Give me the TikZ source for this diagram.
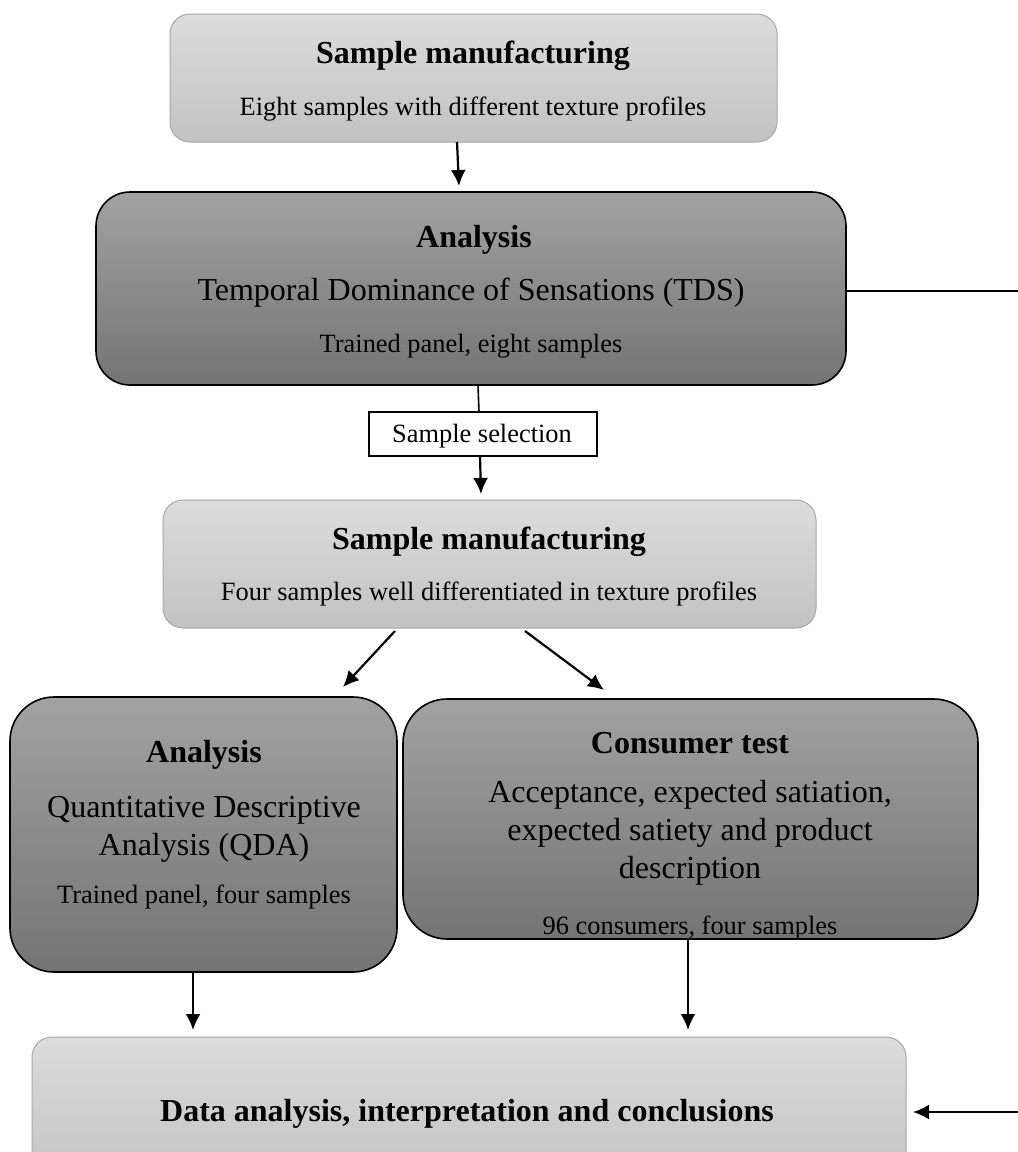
\documentclass[tikz,border=0pt]{standalone}
\usepackage{fontspec}
\setmainfont{Liberation Serif}
\usetikzlibrary{arrows.meta,calc}
\definecolor{lighttop}{HTML}{DCDCDC}
\definecolor{lightbot}{HTML}{C2C2C2}
\definecolor{lightedge}{HTML}{A8A8A8}
\definecolor{darktop}{HTML}{A2A2A2}
\definecolor{darkbot}{HTML}{747474}
\tikzset{
  lightbox/.style={rectangle, rounded corners=10pt, draw=lightedge, line width=0.5pt,
    top color=lighttop, bottom color=lightbot, inner sep=0pt, outer sep=0pt},
  darkbox/.style={rectangle, draw=black, line width=0.8pt,
    top color=darktop, bottom color=darkbot, inner sep=0pt, outer sep=0pt},
  selbox/.style={rectangle, draw=black, line width=0.8pt, fill=white, inner sep=0pt, outer sep=0pt},
  ttl/.style={anchor=base, inner sep=0pt, font=\fontsize{16}{19}\selectfont\bfseries},
  mainl/.style={anchor=base, inner sep=0pt, align=center, font=\fontsize{16}{19}\selectfont},
  subl/.style={anchor=base, inner sep=0pt, font=\fontsize{13.2}{16}\selectfont},
  arr/.style={line width=1.1pt, -{Latex[length=8pt,width=7.5pt]}},
  ln/.style={line width=0.8pt}
}
\begin{document}
\begin{tikzpicture}[x=0.5pt,y=-0.5pt]
\useasboundingbox (0,0) rectangle (1018,1152);
\clip (0,0) rectangle (1018,1152);
% boxes
\node[lightbox, minimum width=303.5pt, minimum height=64pt] (b1) at (473.5,78) {};
\node[darkbox, rounded corners=17pt, minimum width=375pt, minimum height=96.5pt] (b2) at (471,288.5) {};
\node[selbox, minimum width=114pt, minimum height=22pt] (sel) at (483,434) {};
\node[lightbox, minimum width=326.5pt, minimum height=64pt] (b3) at (489.5,564) {};
\node[darkbox, rounded corners=22pt, minimum width=193.5pt, minimum height=137.5pt] (b4) at (203.5,834.5) {};
\node[darkbox, rounded corners=22pt, minimum width=287.5pt, minimum height=120pt] (b5) at (690.5,819) {};
\node[lightbox, minimum width=437pt, minimum height=74pt] (b6) at (469,1111) {};
% texts
\node[ttl] (t1a) at (473,63) {Sample manufacturing};
\node[subl] (t1b) at (473,115) {Eight samples with different texture profiles};
\node[ttl] (t2a) at (474,247) {Analysis};
\node[mainl] (t2b) at (471,300) {Temporal Dominance of Sensations (TDS)};
\node[subl] (t2c) at (471,352) {Trained panel, eight samples};
\node[subl] (ts) at (482,442) {Sample selection};
\node[ttl] (t3a) at (489,549) {Sample manufacturing};
\node[subl] (t3b) at (489,600) {Four samples well differentiated in texture profiles};
\node[ttl] (t4a) at (204,762) {Analysis};
\node[mainl] (t4b) at (204,855) {Quantitative Descriptive\\Analysis (QDA)};
\node[subl] (t4c) at (204,903) {Trained panel, four samples};
\node[ttl] (t5a) at (690,753) {Consumer test};
\node[mainl] (t5b) at (690,878) {Acceptance, expected satiation,\\expected satiety and product\\description};
\node[subl] (t5c) at (690,934) {96 consumers, four samples};
\node[ttl] (t6a) at (467,1121) {Data analysis, interpretation and conclusions};
% connectors
\coordinate (r1) at (1018,291);
\coordinate (r2) at (1018,1112);
\draw[ln] (b2.east |- r1) -- (r1);
\draw[arr] (r2) -- ($(b6.east |- r2)+(7,0)$);
\draw[arr] ($(b1.south)+(-16.5,0)$) -- ($(b2.north)+(-12,-6)$);
\draw[ln] ($(b2.south)+(7,0)$) -- ($(sel.north)+(-4,0)$);
\draw[arr] ($(sel.south)+(-3,0)$) -- ($(b3.north)+(-8.5,-6)$);
\draw[arr] ($(b3.south)+(-94.5,3)$) -- ($(b4.north)+(139.5,-10)$);
\draw[arr] ($(b3.south)+(35.5,3)$) -- ($(b5.north)+(-86.5,-9)$);
\draw[arr] ($(b4.south)+(-10.5,0)$) -- ($(b6.north)+(-276,-7)$);
\draw[arr] ($(b5.south)+(-2.5,0)$) -- ($(b6.north)+(219,-7)$);
\end{tikzpicture}
\end{document}
